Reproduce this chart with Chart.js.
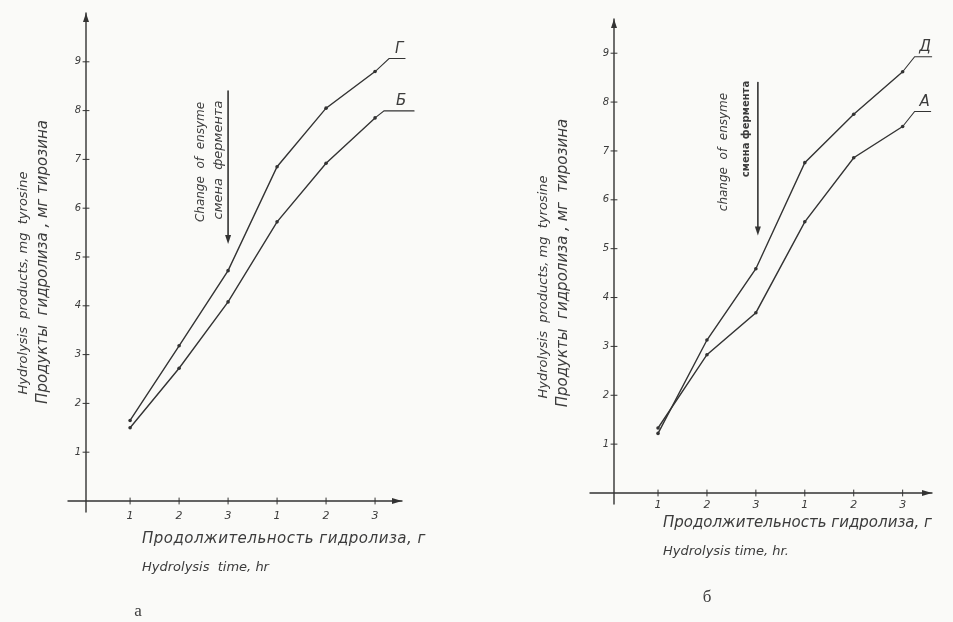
<!DOCTYPE html>
<html><head><meta charset="utf-8">
<script src="https://cdn.jsdelivr.net/npm/chart.js@4/dist/chart.umd.min.js"></script>
<style>
html,body{margin:0;padding:0;background:#fafaf8;}
#wrap{position:relative;width:953px;height:622px;overflow:hidden;background:#fafaf8;}
canvas{position:absolute;left:0;top:0;}
.t{position:absolute;white-space:pre;font-family:"DejaVu Sans";font-style:italic;color:#3c3c3c;line-height:1;}
.rot{transform:translate(-50%,-50%) rotate(-90deg);}
.ctr{transform:translate(0,-50%);}
.mid{transform:translate(-50%,-50%);}
</style></head>
<body><div id="wrap">
<canvas id="cA" width="953" height="622"></canvas>
<canvas id="cB" width="953" height="622"></canvas>

<div class="t rot" style="left:22px;top:283px;font-size:13px;">Hydrolysis  products, mg  tyrosine</div>
<div class="t rot" style="left:42px;top:262px;font-size:15px;">Продукты  гидролиза , мг тирозина</div>
<div class="t rot" style="left:200px;top:162px;font-size:12px;">Change  of  ensyme</div>
<div class="t rot" style="left:217px;top:160px;font-size:13px;">смена  фермента</div>
<div class="t ctr" style="left:142px;top:538px;font-size:15px;letter-spacing:0.5px;">Продолжительность гидролиза, г</div>
<div class="t ctr" style="left:142px;top:566px;font-size:13px;">Hydrolysis  time, hr</div>
<div class="t mid" style="left:138px;top:610px;font-size:17px;font-family:'Liberation Serif';font-style:normal;">а</div>

<div class="t rot" style="left:542px;top:287px;font-size:13px;">Hydrolysis  products, mg  tyrosine</div>
<div class="t rot" style="left:562px;top:263px;font-size:15px;">Продукты  гидролиза , мг  тирозина</div>
<div class="t rot" style="left:723px;top:152px;font-size:12px;">change  of  ensyme</div>
<div class="t rot" style="left:746px;top:129px;font-size:10px;font-weight:bold;font-style:normal;">смена фермента</div>
<div class="t ctr" style="left:663px;top:522px;font-size:15px;">Продолжительность гидролиза, г</div>
<div class="t ctr" style="left:663px;top:550px;font-size:13px;">Hydrolysis time, hr.</div>
<div class="t mid" style="left:707px;top:596px;font-size:17px;font-family:'Liberation Serif';font-style:normal;">б</div>
</div>
<script>
// ---- data ----
const hours = [1, 2, 3, 4, 5, 6];
const hourLabels = ['1', '2', '3', '1', '2', '3'];
const yTicks = [1, 2, 3, 4, 5, 6, 7, 8, 9];
// panel а
const seriesGName = 'Г';
const seriesG = [1.65, 3.18, 4.72, 6.85, 8.05, 8.80];
const seriesBName = 'Б';
const seriesB = [1.50, 2.72, 4.08, 5.72, 6.92, 7.85];
// panel б
const seriesDName = 'Д';
const seriesD = [1.22, 3.13, 4.59, 6.76, 7.75, 8.62];
const seriesAName = 'А';
const seriesA = [1.33, 2.83, 3.69, 5.55, 6.86, 7.50];
// enzyme change marker (hour position, value range)
const enzymeChangeAt = 3;
const enzymeChangeFrom = 8.4;
const enzymeChangeTo = 5.35;

const INK = '#333333';
const TXT = '#3c3c3c';

function arrowHead(ctx, x, y, dir) {
  ctx.beginPath();
  if (dir === 'up') { ctx.moveTo(x, y); ctx.lineTo(x - 3, y + 9); ctx.lineTo(x + 3, y + 9); }
  else if (dir === 'down') { ctx.moveTo(x, y); ctx.lineTo(x - 3, y - 9); ctx.lineTo(x + 3, y - 9); }
  else { ctx.moveTo(x, y); ctx.lineTo(x - 10, y - 3); ctx.lineTo(x - 10, y + 3); }
  ctx.closePath(); ctx.fill();
}

const handAxes = {
  id: 'handAxes',
  afterDraw(chart, args, opts) {
    const { ctx, chartArea: a, scales: { x, y } } = chart;
    const x0 = a.left, y0 = y.getPixelForValue(0);
    ctx.save();
    ctx.strokeStyle = INK; ctx.fillStyle = INK; ctx.lineWidth = 1.4; ctx.lineCap = 'round';
    ctx.beginPath();
    ctx.moveTo(x0 - opts.extLeft, y0); ctx.lineTo(a.right, y0);
    ctx.moveTo(x0, y0 + 11); ctx.lineTo(x0, a.top);
    ctx.stroke();
    arrowHead(ctx, x0, a.top, 'up');
    arrowHead(ctx, a.right, y0, 'right');
    ctx.lineWidth = 1;
    ctx.beginPath();
    hours.forEach(h => { const px = x.getPixelForValue(h); ctx.moveTo(px, y0 - 3); ctx.lineTo(px, y0 + 3); });
    yTicks.forEach(v => { const py = y.getPixelForValue(v); ctx.moveTo(x0 - 3, py); ctx.lineTo(x0 + 3, py); });
    ctx.stroke();
    // enzyme change marker
    const ex = x.getPixelForValue(enzymeChangeAt) + opts.enzDx;
    const et = y.getPixelForValue(enzymeChangeFrom), eb = y.getPixelForValue(enzymeChangeTo);
    ctx.lineWidth = 1.6;
    ctx.beginPath(); ctx.moveTo(ex, et); ctx.lineTo(ex, eb); ctx.stroke();
    arrowHead(ctx, ex, eb + 4, 'down');
    // series leader lines + names
    ctx.lineWidth = 1.1;
    ctx.font = 'italic 15px "DejaVu Sans"';
    ctx.fillStyle = TXT;
    chart.data.datasets.forEach((ds, i) => {
      const meta = chart.getDatasetMeta(i);
      const p = meta.data[meta.data.length - 1];
      const t = opts.tails[i];
      const x1 = p.x + t[0], y1 = p.y + t[1], x2 = x1 + t[2];
      ctx.beginPath(); ctx.moveTo(p.x, p.y); ctx.lineTo(x1, y1); ctx.lineTo(x2, y1); ctx.stroke();
      ctx.textAlign = 'center'; ctx.textBaseline = 'bottom';
      ctx.fillText(ds.label, (x1 + x2) / 2 + 2, y1 - 2);
    });
    ctx.restore();
  }
};

function makeChart(id, sets, geom) {
  const ds = sets.map(s => ({
    label: s.name,
    data: hours.map((h, i) => ({ x: h, y: s.values[i] })),
    borderColor: INK, backgroundColor: INK, borderWidth: 1.4,
    pointRadius: 1.8, pointBackgroundColor: INK, pointBorderWidth: 0,
    tension: 0, clip: false
  }));
  return new Chart(document.getElementById(id), {
    type: 'line',
    data: { datasets: ds },
    plugins: [handAxes],
    options: {
      responsive: false, animation: false, devicePixelRatio: 1,
      layout: { autoPadding: false, padding: geom.padding },
      plugins: {
        legend: { display: false }, tooltip: { enabled: false },
        handAxes: { tails: geom.tails, extLeft: geom.extLeft, enzDx: geom.enzDx }
      },
      scales: {
        x: {
          type: 'linear', min: geom.xMin, max: geom.xMax,
          grid: { display: false, drawTicks: false }, border: { display: false },
          afterBuildTicks: s => { s.ticks = hours.map(v => ({ value: v })); },
          afterFit: s => { s.height = 30; },
          ticks: { padding: geom.xPad, color: TXT, font: { family: 'DejaVu Sans', style: 'italic', size: 11 },
            maxRotation: 0, autoSkip: false,
            callback: v => hourLabels[hours.indexOf(v)] ?? '' }
        },
        y: {
          type: 'linear', min: 0, max: geom.yMax,
          grid: { display: false, drawTicks: false }, border: { display: false },
          afterBuildTicks: s => { s.ticks = yTicks.map(v => ({ value: v })); },
          afterFit: s => { s.width = 30; },
          ticks: { padding: 5, color: TXT, font: { family: 'DejaVu Sans', style: 'italic', size: 10 } }
        }
      }
    }
  });
}

makeChart('cA', [
  { name: seriesGName, values: seriesG },
  { name: seriesBName, values: seriesB }
], {
  padding: { left: 56, top: 13, right: 551, bottom: 91 },
  xMin: 0.1, xMax: 6.55, yMax: 10, xPad: 9, extLeft: 18, enzDx: 0,
  tails: [[14, -13, 16], [9, -7, 30]]
});

makeChart('cB', [
  { name: seriesDName, values: seriesD },
  { name: seriesAName, values: seriesA }
], {
  padding: { left: 584, top: 19, right: 21, bottom: 99 },
  xMin: 0.1, xMax: 6.6, yMax: 9.7, xPad: 6, extLeft: 24, enzDx: 2,
  tails: [[12, -15, 17], [12, -15, 16]]
});
</script>
</body></html>
